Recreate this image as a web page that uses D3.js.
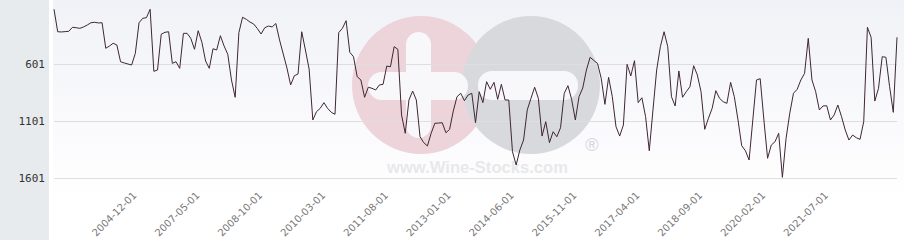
<!DOCTYPE html>
<html>
<head>
<meta charset="utf-8">
<script src="https://cdn.jsdelivr.net/npm/d3@7"></script>
<style>
  html, body { margin: 0; padding: 0; background: #ffffff; }
  svg { display: block; }
</style>
</head>
<body>
<svg id="chart" width="904" height="240"></svg>
<script>
// Rank values (lower = better, axis reversed), one per data point
const ranks = [
  121, 318, 320, 317, 314, 279, 283, 288, 276, 259,
  239, 235, 241, 239, 463, 443, 419, 434, 581, 592,
  601, 610, 507, 239, 200, 195, 121, 665, 654, 340,
  323, 318, 595, 581, 639, 332, 332, 376, 472, 309,
  411, 575, 639, 467, 478, 353, 443, 516, 741, 893,
  326, 191, 209, 233, 250, 290, 338, 283, 268, 276,
  246, 390, 513, 636, 785, 704, 689, 318, 478, 645,
  1092, 1019, 990, 940, 990, 1025, 1042, 326, 288, 221,
  498, 537, 712, 741, 893, 805, 814, 829, 785, 779,
  619, 625, 449, 472, 1048, 1209, 917, 838, 917, 1239,
  1291, 1320, 1209, 1121, 1119, 1116, 1204, 1174, 1013, 888,
  858, 923, 873, 858, 1116, 844, 940, 756, 823, 762,
  911, 779, 917, 917, 1370, 1487, 1355, 1268, 1004, 902,
  805, 902, 1233, 1107, 1291, 1195, 1239, 1160, 858, 791,
  911, 1092, 888, 812, 654, 542, 570, 595, 726, 955,
  718, 888, 1151, 1233, 1136, 604, 706, 572, 940, 897,
  1063, 1362, 1004, 654, 449, 318, 449, 888, 969, 662,
  893, 844, 800, 616, 697, 844, 1174, 1077, 990, 835,
  902, 932, 946, 762, 888, 1092, 1318, 1362, 1443, 1092,
  741, 730, 1092, 1428, 1312, 1283, 1209, 1595, 1253, 1033,
  858, 823, 741, 683, 376, 741, 844, 1004, 969, 967,
  1092, 1048, 961, 1063, 1180, 1268, 1224, 1248, 1262, 1107,
  279, 367, 926, 814, 537, 542, 800, 1025, 367
];
const categories = ranks.map((_, i) => i);

// x-axis tick labels and the category index each one sits on
const tickLabels = ["2004-12-01", "2007-05-01", "2008-10-01", "2010-03-01", "2011-08-01", "2013-01-01",
                    "2014-06-01", "2015-11-01", "2017-04-01", "2018-09-01", "2020-02-01", "2021-07-01"];
const tickCategories = [22, 39, 56, 73, 90, 107, 124, 141, 158, 175, 192, 209];
const yTicks = [601, 1101, 1601];

const svg = d3.select("#chart");
const W = 904, H = 240;

// gradient for plot background
const defs = svg.append("defs");
const grad = defs.append("linearGradient").attr("id", "bg").attr("x1", 0).attr("y1", 0).attr("x2", 0).attr("y2", 1);
grad.append("stop").attr("offset", "0%").attr("stop-color", "#f1f2f7");
grad.append("stop").attr("offset", "85%").attr("stop-color", "#ffffff");

svg.append("rect").attr("x", 0).attr("y", 0).attr("width", W).attr("height", H).attr("fill", "#ffffff");
svg.append("rect").attr("x", 53).attr("y", 0).attr("width", W - 53).attr("height", H).attr("fill", "url(#bg)");
svg.append("rect").attr("x", 0).attr("y", 0).attr("width", 49).attr("height", H).attr("fill", "#e8ebee");

const x = d3.scaleLinear().domain([0, categories.length - 1]).range([54, 897]);
const y = d3.scaleLinear().domain([601, 1601]).range([64, 178]);

// watermark
const wm = svg.append("g");
wm.append("circle").attr("cx", 421).attr("cy", 85).attr("r", 69).attr("fill", "#ecd4da");
wm.append("circle").attr("cx", 531).attr("cy", 85).attr("r", 69).attr("fill", "#d8d9dc");
wm.append("rect").attr("x", 406).attr("y", 32).attr("width", 25).attr("height", 106).attr("rx", 12.5).attr("fill", "#f8f8fb");
wm.append("rect").attr("x", 368).attr("y", 72).attr("width", 100).attr("height", 28).attr("rx", 14).attr("fill", "#f8f8fb");
wm.append("rect").attr("x", 478).attr("y", 71).attr("width", 100).attr("height", 29).attr("rx", 14).attr("fill", "#f8f8fb");
wm.append("text").attr("x", 387).attr("y", 173).attr("textLength", 181).attr("lengthAdjust", "spacingAndGlyphs")
  .attr("font-family", "Liberation Sans, Arial, sans-serif").attr("font-weight", "bold").attr("font-size", 17)
  .attr("fill", "#e8e8eb").text("www.Wine-Stocks.com");
wm.append("text").attr("x", 592).attr("y", 151).attr("text-anchor", "middle")
  .attr("font-family", "Liberation Sans, Arial, sans-serif").attr("font-size", 18)
  .attr("fill", "#d6d7db").text("®");

// grid lines
svg.append("g").selectAll("line").data(yTicks).join("line")
  .attr("x1", 54).attr("x2", 897)
  .attr("y1", d => Math.round(y(d)) + 0.5).attr("y2", d => Math.round(y(d)) + 0.5)
  .attr("stroke", "#dedede").attr("stroke-width", 1);

// y labels
svg.append("g").selectAll("text").data(yTicks).join("text")
  .attr("x", 45).attr("y", d => y(d) + 4)
  .attr("text-anchor", "end")
  .attr("font-family", "DejaVu Sans Mono, monospace").attr("font-size", 11)
  .attr("fill", "#333333").text(d => d);

// x labels
svg.append("g").selectAll("text").data(tickLabels).join("text")
  .attr("transform", (d, i) => `translate(${x(tickCategories[i]) + 2},196) rotate(-45)`)
  .attr("text-anchor", "end")
  .attr("font-family", "DejaVu Sans, sans-serif").attr("font-size", 10)
  .attr("fill", "#777777").text(d => d);

// line
const line = d3.line().x((d, i) => x(categories[i])).y(d => y(d));
svg.append("path").datum(ranks)
  .attr("d", line)
  .attr("fill", "none").attr("stroke", "#3f2633").attr("stroke-width", 1)
  .attr("stroke-linejoin", "round");
</script>
</body>
</html>
